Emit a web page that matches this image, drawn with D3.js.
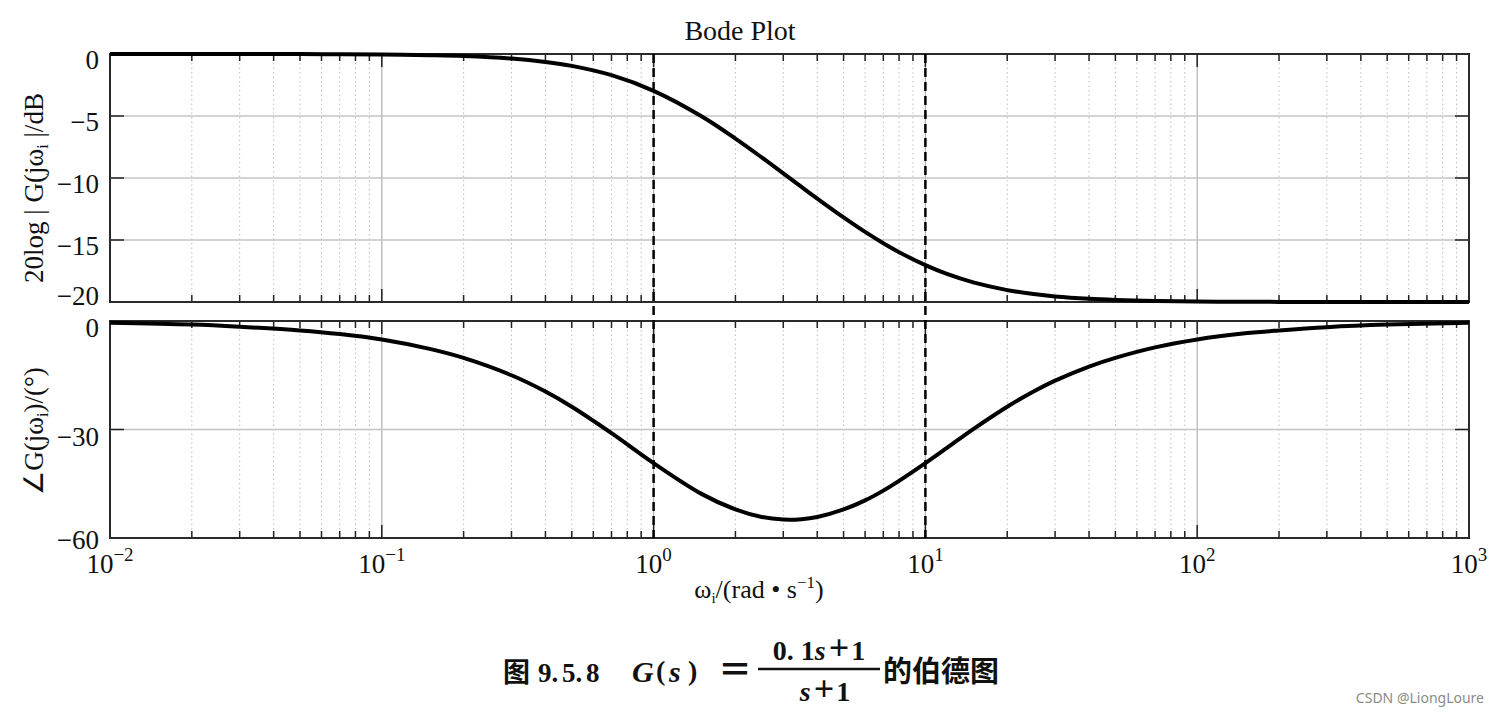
<!DOCTYPE html>
<html><head><meta charset="utf-8">
<script src="https://cdn.jsdelivr.net/npm/d3@7"></script>
<style>
html,body{margin:0;padding:0;background:#fff;}
svg{display:block;}
</style></head>
<body>
<svg id="chart" width="1499" height="716"></svg>
<script>
// ---- data ----
const freqs = [0.01,0.02,0.03,0.05,0.07,0.1,0.15,0.2,0.3,0.4,0.5,0.7,1,1.5,2,2.5,3,3.5,4,5,6,7,8,10,12,15,20,25,30,40,50,70,100,150,200,300,500,1000];
const magDb = [0,0,0,-0.01,-0.02,-0.04,-0.1,-0.17,-0.37,-0.64,-0.96,-1.71,-2.97,-5.02,-6.82,-8.34,-9.63,-10.72,-11.66,-13.18,-14.35,-15.26,-15.98,-17.03,-17.74,-18.42,-19.04,-19.36,-19.55,-19.74,-19.83,-19.91,-19.96,-19.98,-19.99,-20,-20,-20];
const phaseDeg = [-0.5,-1.0,-1.6,-2.6,-3.6,-5.1,-7.7,-10.2,-15.0,-19.5,-23.7,-31.0,-39.3,-47.8,-52.1,-54.2,-54.9,-54.8,-54.2,-52.1,-49.6,-46.9,-44.2,-39.3,-35.1,-29.9,-23.7,-19.5,-16.5,-12.6,-10.2,-7.3,-5.1,-3.4,-2.6,-1.7,-1.0,-0.5];
const cornerFreqs = [1, 10];
const magTicks = [0,-5,-10,-15,-20];
const phaseTicks = [0,-30,-60];
const decadeExps = [-2,-1,0,1,2,3];
const magTickLabels = ["0","\u22125","\u221210","\u221215","\u221220"];
const phaseTickLabels = ["0","\u221230","\u221260"];

// ---- layout ----
const svg = d3.select("#chart");
const L = 110, R = 1469;
const top1 = 54, bot1 = 302, top2 = 321, bot2 = 538;
const serif = "'Liberation Serif','Times New Roman',serif";

const x = d3.scaleLog().domain([0.01,1000]).range([L,R]);
const yM = d3.scaleLinear().domain([-20,0]).range([bot1,top1]);
const yP = d3.scaleLinear().domain([-60,0]).range([bot2,top2]);

const majors = decadeExps.map(e => Math.pow(10,e));
const minors = [];
decadeExps.slice(0,-1).forEach(e => { for (let k=2;k<=9;k++) minors.push(k*Math.pow(10,e)); });

function panel(y, t, b, ticks, labels, isTop){
  const g = svg.append("g");
  g.selectAll(".mg").data(minors).enter().append("line")
    .attr("x1",d=>x(d)).attr("x2",d=>x(d)).attr("y1",t).attr("y2",b)
    .attr("stroke","#bdbdbd").attr("stroke-width",1).attr("stroke-dasharray","1.5,3");
  g.selectAll(".Mg").data(majors).enter().append("line")
    .attr("x1",d=>x(d)).attr("x2",d=>x(d)).attr("y1",t).attr("y2",b)
    .attr("stroke","#b0b0b0").attr("stroke-width",1.2);
  g.selectAll(".hg").data(ticks).enter().append("line")
    .attr("x1",L).attr("x2",R).attr("y1",d=>y(d)).attr("y2",d=>y(d))
    .attr("stroke","#c4c4c4").attr("stroke-width",1.5);
  [[t,1],[b,-1]].forEach(([yy,dir])=>{
    g.selectAll(null).data(minors).enter().append("line")
      .attr("x1",d=>x(d)).attr("x2",d=>x(d)).attr("y1",yy).attr("y2",yy+dir*7)
      .attr("stroke","#222").attr("stroke-width",1.5);
    g.selectAll(null).data(majors).enter().append("line")
      .attr("x1",d=>x(d)).attr("x2",d=>x(d)).attr("y1",yy).attr("y2",yy+dir*13)
      .attr("stroke","#222").attr("stroke-width",1.5);
  });
  [[L,1],[R,-1]].forEach(([xx,dir])=>{
    g.selectAll(null).data(ticks).enter().append("line")
      .attr("x1",xx).attr("x2",xx+dir*14).attr("y1",d=>y(d)).attr("y2",d=>y(d))
      .attr("stroke","#222").attr("stroke-width",1.5);
  });
  g.append("rect").attr("x",L).attr("y",t).attr("width",R-L).attr("height",b-t)
    .attr("fill","none").attr("stroke","#2a2a2a").attr("stroke-width",2);
  g.selectAll(".yl").data(ticks).enter().append("text")
    .attr("x",99)
    .attr("y",(d,i)=> y(d) + (isTop ? (i===ticks.length-1 ? -6 : 6) : (i===ticks.length-1 ? 2 : 7)))
    .attr("text-anchor","end").attr("dominant-baseline","central")
    .attr("font-family",serif).attr("font-size",27).attr("fill","#111")
    .text((d,i)=>labels[i]);
}

panel(yM, top1, bot1, magTicks, magTickLabels, true);
panel(yP, top2, bot2, phaseTicks, phaseTickLabels, false);

const lineM = d3.line().x((d,i)=>x(freqs[i])).y(d=>yM(d)).curve(d3.curveCatmullRom.alpha(0.5));
const lineP = d3.line().x((d,i)=>x(freqs[i])).y(d=>yP(d)).curve(d3.curveCatmullRom.alpha(0.5));
svg.append("path").attr("d",lineM(magDb)).attr("fill","none").attr("stroke","#000").attr("stroke-width",4);
svg.append("path").attr("d",lineP(phaseDeg)).attr("fill","none").attr("stroke","#000").attr("stroke-width",4);

svg.selectAll(".cf").data(cornerFreqs).enter().append("line")
  .attr("x1",d=>x(d)).attr("x2",d=>x(d)).attr("y1",top1).attr("y2",bot2)
  .attr("stroke","#000").attr("stroke-width",2.5).attr("stroke-dasharray","9,5");

const xl = svg.selectAll(".xl").data(decadeExps).enter().append("text")
  .attr("x",d=>x(Math.pow(10,d))).attr("y",573)
  .attr("text-anchor","middle").attr("font-family",serif).attr("font-size",27).attr("fill","#111");
xl.append("tspan").text("10");
xl.append("tspan").attr("dy",-12).attr("font-size",19).text(d=>d<0 ? "\u2212"+(-d) : String(d));

svg.append("text").attr("x",740).attr("y",40).attr("text-anchor","middle")
  .attr("font-family",serif).attr("font-size",28).attr("fill","#111").text("Bode Plot");

const xlab = svg.append("text").attr("x",759).attr("y",598).attr("text-anchor","middle")
  .attr("font-family",serif).attr("font-size",26).attr("fill","#111");
xlab.append("tspan").text("\u03c9");
xlab.append("tspan").attr("font-size",15).attr("dy",5).text("i");
xlab.append("tspan").attr("dy",-5).text("/(rad \u2022 s");
xlab.append("tspan").attr("font-size",17).attr("dy",-10).text("\u22121");
xlab.append("tspan").attr("dy",10).text(")");

const yl1 = svg.append("text").attr("transform","translate(43,188) rotate(-90)")
  .attr("text-anchor","middle").attr("font-family",serif).attr("font-size",27).attr("fill","#111");
yl1.append("tspan").text("20log | G(j\u03c9");
yl1.append("tspan").attr("font-size",16).attr("dy",5).text("i");
yl1.append("tspan").attr("dy",-5).text("  |/dB");

const yl2 = svg.append("text").attr("transform","translate(43,431) rotate(-90)")
  .attr("text-anchor","middle").attr("font-family",serif).attr("font-size",27).attr("fill","#111");
yl2.append("tspan").text("\u2220G(j\u03c9");
yl2.append("tspan").attr("font-size",16).attr("dy",5).text("i");
yl2.append("tspan").attr("dy",-5).text(")/(\u00b0)");

// caption
const cjk = "'Noto Sans CJK SC','Liberation Serif',sans-serif";
const bserif = "'Liberation Serif','Times New Roman',serif";
function ctext(xx, yy, str, opts){
  const t = svg.append("text").attr("x",xx).attr("y",yy).attr("font-weight",700).attr("fill","#111")
    .attr("font-family",opts.f||bserif).attr("font-size",opts.s||28).text(str);
  if (opts.i) t.attr("font-style","italic");
  if (opts.a) t.attr("text-anchor",opts.a);
  return t;
}
ctext(503,682,"图",{f:cjk,s:27});
ctext(538,682,"9. 5. 8",{s:27}).attr("word-spacing",-3);
ctext(632,682,"G",{s:30,i:true});
ctext(656,680,"(",{s:28});
ctext(669,682,"s",{s:30,i:true});
ctext(688,680,")",{s:28});
ctext(735,682,"\uff1d",{f:cjk,s:34,a:"middle"});
const num = svg.append("text").attr("x",819).attr("y",660).attr("text-anchor","middle")
  .attr("font-family",bserif).attr("font-weight",700).attr("font-size",28).attr("fill","#111");
num.append("tspan").text("0. 1");
num.append("tspan").attr("font-style","italic").text("s");
num.append("tspan").attr("font-size",36).attr("dx",3).text("+");
num.append("tspan").attr("dx",2).text("1");
svg.append("line").attr("x1",758).attr("x2",880).attr("y1",669).attr("y2",669)
  .attr("stroke","#111").attr("stroke-width",2.5);
const den = svg.append("text").attr("x",825).attr("y",701).attr("text-anchor","middle")
  .attr("font-family",bserif).attr("font-weight",700).attr("font-size",28).attr("fill","#111");
den.append("tspan").attr("font-style","italic").text("s");
den.append("tspan").attr("font-size",36).attr("dx",3).text("+");
den.append("tspan").attr("dx",2).text("1");
ctext(883,682,"的伯德图",{f:cjk,s:29});

svg.append("text").attr("x",1484).attr("y",703).attr("text-anchor","end")
  .attr("font-family","'Noto Sans',sans-serif").attr("font-size",14).attr("fill","#8a8a8a")
  .text("CSDN @LiongLoure");
</script>
</body></html>
